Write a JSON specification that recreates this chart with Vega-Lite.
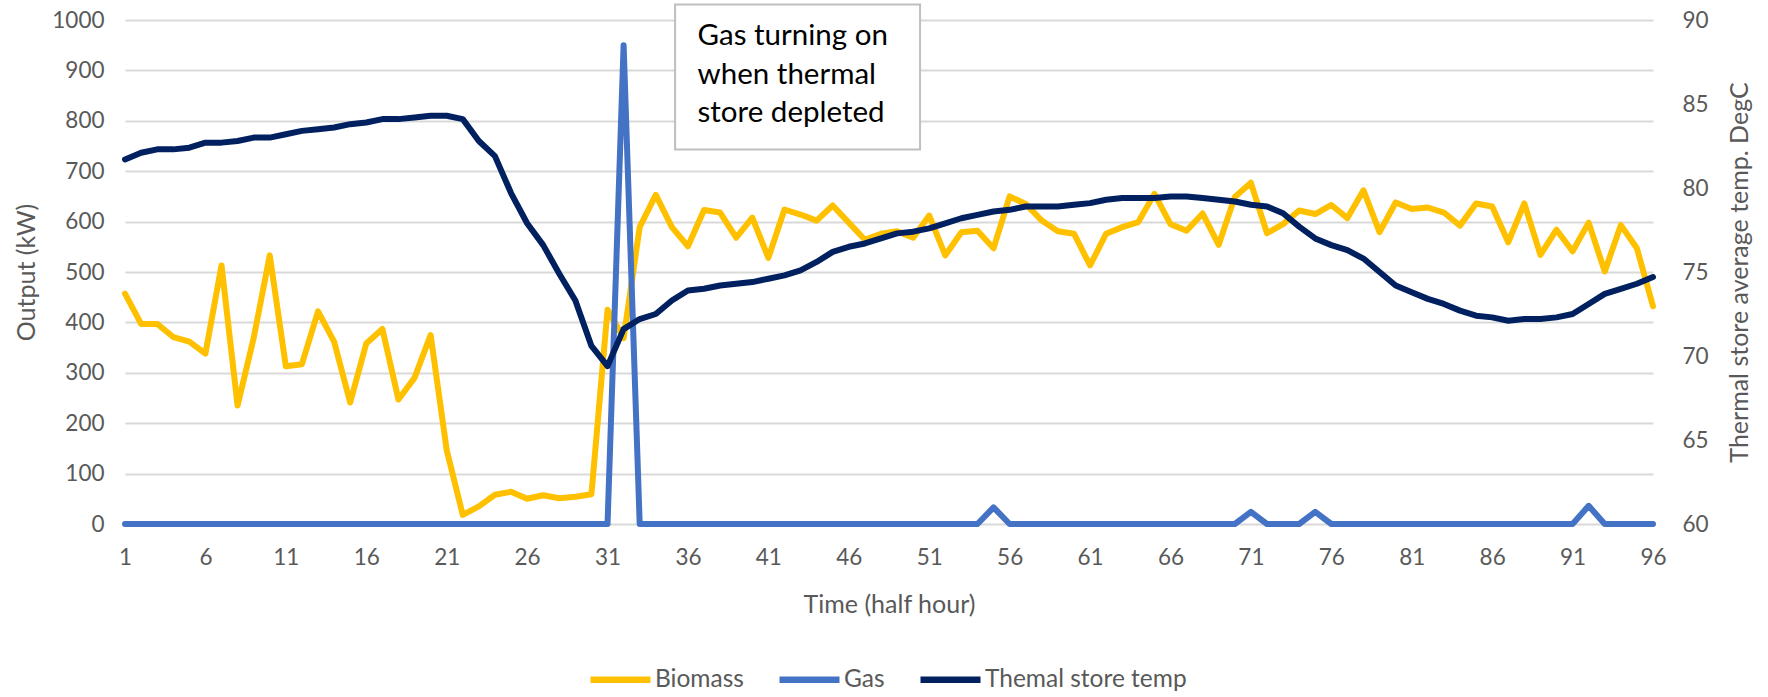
{
  "$schema": "https://vega.github.io/schema/vega-lite/v6.json",
  "width": 1528,
  "height": 504,
  "autosize": {"type": "none"},
  "padding": {"left": 125, "top": 20, "right": 115, "bottom": 173},
  "background": "white",
  "config": {
    "view": {"stroke": null},
    "font": "Lato",
    "axis": {"labelColor": "#595959", "titleColor": "#595959", "titleFontWeight": "normal", "labelFont": "Lato", "titleFont": "Lato"},
    "legend": {"labelFont": "Lato"}
  },
  "data": {
    "values": [
      {"t":1,"Biomass":457,"Gas":0,"Temp":81.7},
      {"t":2,"Biomass":397,"Gas":0,"Temp":82.1},
      {"t":3,"Biomass":397,"Gas":0,"Temp":82.3},
      {"t":4,"Biomass":371,"Gas":0,"Temp":82.3},
      {"t":5,"Biomass":362,"Gas":0,"Temp":82.4},
      {"t":6,"Biomass":338,"Gas":0,"Temp":82.7},
      {"t":7,"Biomass":513,"Gas":0,"Temp":82.7},
      {"t":8,"Biomass":235,"Gas":0,"Temp":82.8},
      {"t":9,"Biomass":369,"Gas":0,"Temp":83.0},
      {"t":10,"Biomass":533,"Gas":0,"Temp":83.0},
      {"t":11,"Biomass":313,"Gas":0,"Temp":83.2},
      {"t":12,"Biomass":317,"Gas":0,"Temp":83.4},
      {"t":13,"Biomass":422,"Gas":0,"Temp":83.5},
      {"t":14,"Biomass":362,"Gas":0,"Temp":83.6},
      {"t":15,"Biomass":241,"Gas":0,"Temp":83.8},
      {"t":16,"Biomass":358,"Gas":0,"Temp":83.9},
      {"t":17,"Biomass":387,"Gas":0,"Temp":84.1},
      {"t":18,"Biomass":247,"Gas":0,"Temp":84.1},
      {"t":19,"Biomass":290,"Gas":0,"Temp":84.2},
      {"t":20,"Biomass":375,"Gas":0,"Temp":84.3},
      {"t":21,"Biomass":147,"Gas":0,"Temp":84.3},
      {"t":22,"Biomass":18,"Gas":0,"Temp":84.1},
      {"t":23,"Biomass":35,"Gas":0,"Temp":82.8},
      {"t":24,"Biomass":58,"Gas":0,"Temp":81.9},
      {"t":25,"Biomass":64,"Gas":0,"Temp":79.7},
      {"t":26,"Biomass":50,"Gas":0,"Temp":77.9},
      {"t":27,"Biomass":57,"Gas":0,"Temp":76.6},
      {"t":28,"Biomass":51,"Gas":0,"Temp":74.9},
      {"t":29,"Biomass":54,"Gas":0,"Temp":73.3},
      {"t":30,"Biomass":59,"Gas":0,"Temp":70.6},
      {"t":31,"Biomass":425,"Gas":0,"Temp":69.4},
      {"t":32,"Biomass":369,"Gas":950,"Temp":71.6},
      {"t":33,"Biomass":589,"Gas":0,"Temp":72.2},
      {"t":34,"Biomass":653,"Gas":0,"Temp":72.5},
      {"t":35,"Biomass":589,"Gas":0,"Temp":73.3},
      {"t":36,"Biomass":551,"Gas":0,"Temp":73.9},
      {"t":37,"Biomass":623,"Gas":0,"Temp":74.0},
      {"t":38,"Biomass":618,"Gas":0,"Temp":74.2},
      {"t":39,"Biomass":568,"Gas":0,"Temp":74.3},
      {"t":40,"Biomass":608,"Gas":0,"Temp":74.4},
      {"t":41,"Biomass":528,"Gas":0,"Temp":74.6},
      {"t":42,"Biomass":624,"Gas":0,"Temp":74.8},
      {"t":43,"Biomass":614,"Gas":0,"Temp":75.1},
      {"t":44,"Biomass":602,"Gas":0,"Temp":75.6},
      {"t":45,"Biomass":632,"Gas":0,"Temp":76.2},
      {"t":46,"Biomass":598,"Gas":0,"Temp":76.5},
      {"t":47,"Biomass":564,"Gas":0,"Temp":76.7},
      {"t":48,"Biomass":576,"Gas":0,"Temp":77.0},
      {"t":49,"Biomass":581,"Gas":0,"Temp":77.3},
      {"t":50,"Biomass":568,"Gas":0,"Temp":77.4},
      {"t":51,"Biomass":612,"Gas":0,"Temp":77.6},
      {"t":52,"Biomass":533,"Gas":0,"Temp":77.9},
      {"t":53,"Biomass":579,"Gas":0,"Temp":78.2},
      {"t":54,"Biomass":582,"Gas":0,"Temp":78.4},
      {"t":55,"Biomass":547,"Gas":33,"Temp":78.6},
      {"t":56,"Biomass":650,"Gas":0,"Temp":78.7},
      {"t":57,"Biomass":635,"Gas":0,"Temp":78.9},
      {"t":58,"Biomass":602,"Gas":0,"Temp":78.9},
      {"t":59,"Biomass":581,"Gas":0,"Temp":78.9},
      {"t":60,"Biomass":576,"Gas":0,"Temp":79.0},
      {"t":61,"Biomass":513,"Gas":0,"Temp":79.1},
      {"t":62,"Biomass":576,"Gas":0,"Temp":79.3},
      {"t":63,"Biomass":589,"Gas":0,"Temp":79.4},
      {"t":64,"Biomass":599,"Gas":0,"Temp":79.4},
      {"t":65,"Biomass":655,"Gas":0,"Temp":79.4},
      {"t":66,"Biomass":595,"Gas":0,"Temp":79.5},
      {"t":67,"Biomass":582,"Gas":0,"Temp":79.5},
      {"t":68,"Biomass":616,"Gas":0,"Temp":79.4},
      {"t":69,"Biomass":554,"Gas":0,"Temp":79.3},
      {"t":70,"Biomass":649,"Gas":0,"Temp":79.2},
      {"t":71,"Biomass":677,"Gas":24,"Temp":79.0},
      {"t":72,"Biomass":577,"Gas":0,"Temp":78.9},
      {"t":73,"Biomass":595,"Gas":0,"Temp":78.5},
      {"t":74,"Biomass":622,"Gas":0,"Temp":77.7},
      {"t":75,"Biomass":615,"Gas":24,"Temp":77.0},
      {"t":76,"Biomass":633,"Gas":0,"Temp":76.6},
      {"t":77,"Biomass":607,"Gas":0,"Temp":76.3},
      {"t":78,"Biomass":662,"Gas":0,"Temp":75.8},
      {"t":79,"Biomass":579,"Gas":0,"Temp":75.0},
      {"t":80,"Biomass":638,"Gas":0,"Temp":74.2},
      {"t":81,"Biomass":625,"Gas":0,"Temp":73.8},
      {"t":82,"Biomass":628,"Gas":0,"Temp":73.4},
      {"t":83,"Biomass":618,"Gas":0,"Temp":73.1},
      {"t":84,"Biomass":592,"Gas":0,"Temp":72.7},
      {"t":85,"Biomass":636,"Gas":0,"Temp":72.4},
      {"t":86,"Biomass":630,"Gas":0,"Temp":72.3},
      {"t":87,"Biomass":559,"Gas":0,"Temp":72.1},
      {"t":88,"Biomass":636,"Gas":0,"Temp":72.2},
      {"t":89,"Biomass":534,"Gas":0,"Temp":72.2},
      {"t":90,"Biomass":584,"Gas":0,"Temp":72.3},
      {"t":91,"Biomass":541,"Gas":0,"Temp":72.5},
      {"t":92,"Biomass":598,"Gas":36,"Temp":73.1},
      {"t":93,"Biomass":501,"Gas":0,"Temp":73.7},
      {"t":94,"Biomass":593,"Gas":0,"Temp":74.0},
      {"t":95,"Biomass":547,"Gas":0,"Temp":74.3},
      {"t":96,"Biomass":432,"Gas":0,"Temp":74.7}
    ]
  },
  "layer": [
    {
      "layer": [
        {
          "transform": [{"fold": ["Biomass", "Gas"], "as": ["series", "value"]}],
          "mark": {"type": "line", "strokeWidth": 6, "strokeJoin": "round", "strokeCap": "round"},
          "encoding": {
            "x": {
              "field": "t", "type": "quantitative",
              "scale": {"domain": [1, 96], "nice": false, "zero": false},
              "axis": {
                "title": "Time (half hour)",
                "values": [1, 6, 11, 16, 21, 26, 31, 36, 41, 46, 51, 56, 61, 66, 71, 76, 81, 86, 91, 96],
                "grid": false, "domain": false, "ticks": false, "tickSize": 0,
                "labelPadding": 22, "labelFontSize": 22.5, "labelFlush": false,
                "titleFontSize": 25, "titlePadding": 24
              }
            },
            "y": {
              "field": "value", "type": "quantitative",
              "scale": {"domain": [0, 1000], "nice": false},
              "axis": {
                "title": "Output (kW)", "format": "d",
                "values": [0, 100, 200, 300, 400, 500, 600, 700, 800, 900, 1000],
                "grid": true, "gridColor": "#D9D9D9", "gridWidth": 2,
                "domain": false, "ticks": false, "tickSize": 0,
                "labelPadding": 21, "labelFontSize": 22.5,
                "titleFontSize": 25, "titlePadding": 12
              }
            },
            "color": {
              "field": "series", "type": "nominal",
              "scale": {"domain": ["Biomass", "Gas", "Themal store temp"], "range": ["#FFC000", "#4472C4", "#002060"]},
              "legend": {
                "orient": "none", "legendX": 462, "legendY": 626,
                "direction": "horizontal", "title": null,
                "symbolType": "stroke", "symbolSize": 3600, "symbolStrokeWidth": 6.5,
                "labelFontSize": 24.5, "labelColor": "#595959", "labelLimit": 0,
                "columnPadding": 22, "labelOffset": 1
              }
            }
          }
        },
        {
          "data": {"values": [{}]},
          "mark": {"type": "rect", "fill": "white", "stroke": "#BFBFBF", "strokeWidth": 2},
          "encoding": {
            "x": {"datum": 35.2},
            "x2": {"datum": 50.43},
            "y": {"datum": 743},
            "y2": {"datum": 1031}
          }
        },
        {
          "data": {"values": [{}]},
          "mark": {
            "type": "text", "text": ["Gas turning on", "when thermal", "store depleted"],
            "align": "left", "baseline": "middle", "fontSize": 29.5, "lineHeight": 38.5,
            "color": "#000000", "font": "Lato"
          },
          "encoding": {
            "x": {"datum": 36.6},
            "y": {"datum": 968}
          }
        }
      ]
    },
    {
      "mark": {"type": "line", "strokeWidth": 6, "strokeJoin": "round", "strokeCap": "round"},
      "encoding": {
        "x": {"field": "t", "type": "quantitative"},
        "y": {
          "field": "Temp", "type": "quantitative",
          "scale": {"domain": [60, 90], "nice": false, "zero": false},
          "axis": {
            "orient": "right",
            "title": "Thermal store average temp. DegC",
            "values": [60, 65, 70, 75, 80, 85, 90],
            "grid": false, "domain": false, "ticks": false, "tickSize": 0,
            "labelPadding": 29, "labelFontSize": 22.5,
            "titleFontSize": 25, "titlePadding": 44, "titleAngle": 270
          }
        },
        "color": {"datum": "Themal store temp", "type": "nominal"}
      }
    }
  ],
  "resolve": {"scale": {"y": "independent"}}
}
